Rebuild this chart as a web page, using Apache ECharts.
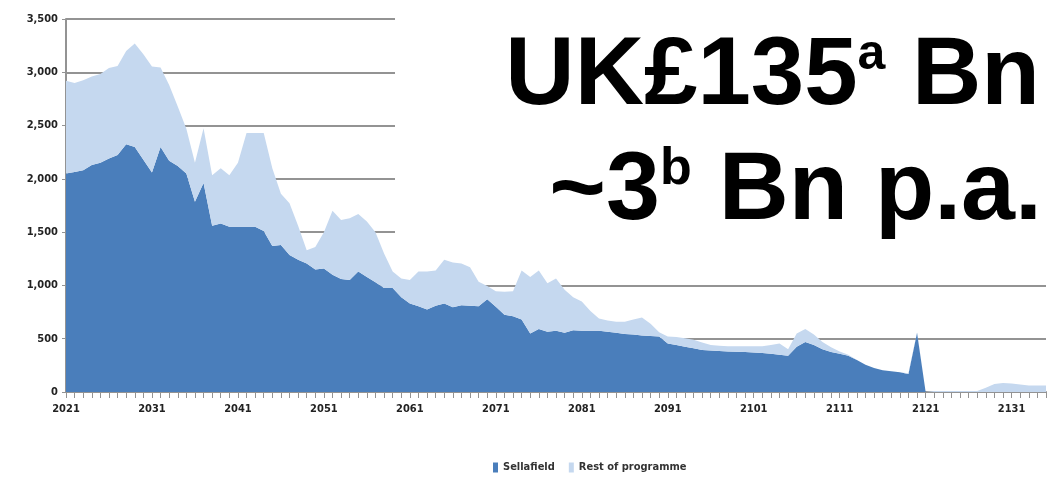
<!DOCTYPE html>
<html>
<head>
<meta charset="utf-8">
<script src="https://cdn.jsdelivr.net/npm/echarts@6/dist/echarts.min.js"></script>
<style>
 html, body { margin: 0; padding: 0; background: #fff; }
 .chart { width: 1050px; height: 497px; }
</style>
</head>
<body>
<div class="chart"></div>
<script>
// years 2021 .. 2135
var years = [];
for (var y = 2021; y <= 2135; y++) years.push(String(y));

// Sellafield, £m per year
var sellafield = [
 2050, 2065, 2080, 2130, 2150, 2190, 2225, 2325, 2300, 2180,
 2060, 2300, 2170, 2120, 2050, 1785, 1960, 1560, 1580, 1550,
 1550, 1550, 1550, 1510, 1370, 1380, 1285, 1240, 1205, 1150,
 1160, 1100, 1060, 1050, 1130, 1080, 1030, 975, 975, 890,
 830, 805, 775, 810, 830, 795, 815, 810, 805, 870,
 800, 725, 710, 680, 550, 590, 565, 575, 555, 580,
 575, 575, 575, 565, 555, 545, 540, 530, 525, 520,
 455, 440, 425, 410, 395, 390, 385, 380, 378, 375,
 370, 365, 360, 350, 340, 425, 470, 440, 400, 375,
 360, 340, 300, 255, 225, 205, 195, 185, 170, 555,
 0, 0, 0, 0, 0, 0, 0, 0, 0, 0,
 0, 0, 0, 0, 0
];

// Rest of programme, £m per year
var restOfProgramme = [
 870, 835, 845, 830, 835, 850, 835, 875, 970, 990,
 995, 745, 710, 560, 420, 365, 515, 475, 520, 485,
 600, 880, 880, 920, 730, 480, 485, 320, 125, 210,
 340, 600, 555, 580, 540, 520, 470, 325, 155, 175,
 220, 325, 355, 330, 410, 420, 390, 360, 230, 125,
 145, 215, 235, 460, 530, 550, 455, 490, 405, 310,
 275, 185, 115, 105, 105, 115, 140, 170, 115, 40,
 65, 75, 80, 80, 70, 50, 50, 50, 52, 55,
 60, 65, 80, 105, 60, 125, 120, 100, 70, 45,
 20, 10, 0, 0, 0, 0, 0, 0, 5, 5,
 0, 10, 10, 10, 10, 10, 10, 40, 75, 85,
 80, 70, 60, 60, 60
];

var yTicks = [0, 500, 1000, 1500, 2000, 2500, 3000, 3500];

var narrow = '"Liberation Sans Narrow", "DejaVu Sans Condensed", "Liberation Sans", sans-serif';
var bold = '"Liberation Sans", Arial, sans-serif';

var myChart = echarts.init(document.querySelector('.chart'));

function headline(size, supSize) {
  return {
    m: { fontFamily: bold, fontWeight: 'bold', fontSize: size, lineHeight: size, fill: '#000' },
    s: { fontFamily: bold, fontWeight: 'bold', fontSize: supSize, lineHeight: supSize, verticalAlign: 'top', fill: '#000' }
  };
}

var option = {
  animation: false,
  backgroundColor: '#fff',
  grid: { left: 66, right: 4, top: 19, bottom: 105 },
  legend: {
    left: 488, top: 457,
    itemWidth: 5, itemHeight: 10, itemGap: 14,
    icon: 'rect',
    textStyle: { fontFamily: narrow, fontSize: 11, fontWeight: 'bold', color: '#333' },
    data: ['Sellafield', 'Rest of programme']
  },
  xAxis: {
    type: 'category',
    data: years,
    boundaryGap: false,
    axisLine: { lineStyle: { color: '#939393', width: 2 } },
    axisTick: { interval: 0, length: 6, lineStyle: { color: '#939393' } },
    axisLabel: {
      interval: 9, margin: 12,
      fontFamily: narrow, fontSize: 11, fontWeight: 'bold', color: '#222'
    }
  },
  yAxis: {
    type: 'value',
    min: yTicks[0], max: yTicks[yTicks.length - 1], interval: 500,
    axisLine: { show: true, lineStyle: { color: '#939393', width: 2 } },
    axisTick: { show: true, length: 4, lineStyle: { color: '#939393' } },
    axisLabel: {
      margin: 8,
      fontFamily: narrow, fontSize: 11, fontWeight: 'bold', color: '#222',
      formatter: function (v) { return v.toLocaleString('en-GB'); }
    },
    splitLine: { lineStyle: { color: '#939393', width: 2 } }
  },
  series: [
    {
      name: 'Sellafield', type: 'line', stack: 'total',
      data: sellafield, symbol: 'none',
      lineStyle: { width: 0 },
      itemStyle: { color: '#4a7ebb' },
      areaStyle: { color: '#4a7ebb', opacity: 1 }
    },
    {
      name: 'Rest of programme', type: 'line', stack: 'total',
      data: restOfProgramme, symbol: 'none',
      lineStyle: { width: 0 },
      itemStyle: { color: '#c5d8ef' },
      areaStyle: { color: '#c5d8ef', opacity: 1 }
    }
  ],
  graphic: [
    // white box behind the headline figures
    { type: 'rect', left: 395, top: 0, z: 10,
      shape: { width: 655, height: 250 }, style: { fill: '#fff' } },
    { type: 'text', right: 10, top: 30, z: 11,
      style: { text: '{m|UK£135}{s|a}{m| Bn}', rich: headline(96, 50) } },
    { type: 'text', right: 8, top: 144, z: 11,
      style: { text: '{m|~3}{s|b}{m| Bn p.a.}', rich: headline(97, 52) } }
  ]
};

myChart.setOption(option);
</script>
</body>
</html>
